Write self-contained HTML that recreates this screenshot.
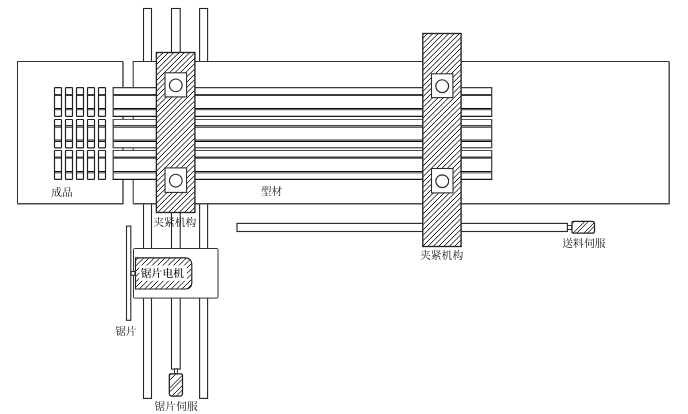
<!DOCTYPE html>
<html lang="zh-CN">
<head>
<meta charset="utf-8">
<title>型材切割示意图</title>
<style>
html,body{margin:0;padding:0;background:#fff;}
body{width:688px;height:414px;overflow:hidden;}
svg{display:block;}
text{font-family:"Liberation Serif","Noto Serif CJK SC",serif;font-size:10.6px;font-weight:400;fill:#151515;}
svg{will-change:transform;}
</style>
</head>
<body>
<svg width="688" height="414" viewBox="0 0 688 414">
<defs>
<clipPath id="c1"><rect x="156.4" y="52.5" width="38.5" height="160.0"/></clipPath>
<clipPath id="c2"><rect x="422.8" y="33.5" width="38.3" height="213.0"/></clipPath>
<clipPath id="c5"><path d="M573 221.3H592.3a2.2 2.2 0 0 1 2.2 2.2V230.9a2.2 2.2 0 0 1 -2.2 2.2H573a1 1 0 0 1 -1 -1V222.3a1 1 0 0 1 1 -1Z"/></clipPath>
<clipPath id="c6"><path d="M135.5 257.8H185.8a6 6 0 0 1 6 6V283a6 6 0 0 1 -6 6H135.5Z"/></clipPath>
<clipPath id="c7"><path d="M170.4 373.8H181.4a1.1 1.1 0 0 1 1.1 1.1V393.2a2.8 2.8 0 0 1 -2.8 2.8H172.1a2.8 2.8 0 0 1 -2.8 -2.8V374.9a1.1 1.1 0 0 1 1.1 -1.1Z"/></clipPath>
</defs>
<rect x="0" y="0" width="688" height="414" fill="#fff"/>
<rect x="143.5" y="8.5" width="8.0" height="389.9" fill="#fff" stroke="#262626" stroke-width="1.1"/>
<rect x="171.5" y="8.5" width="8.7" height="360.6" fill="#fff" stroke="#262626" stroke-width="1.1"/>
<rect x="199.6" y="8.5" width="8.0" height="389.9" fill="#fff" stroke="#262626" stroke-width="1.1"/>
<rect x="126.5" y="226.1" width="4.3" height="94.2" fill="#fff" stroke="#2a2a2a" stroke-width="1.1"/>
<rect x="17.5" y="61.5" width="105.5" height="142.25" fill="#fff" stroke="none" stroke-width="1"/>
<path d="M17.5 203.75V61.5H123.0" fill="none" stroke="#333" stroke-width="1.05" stroke-linejoin="miter"/>
<path d="M123.0 61.5V203.75H17.5" fill="none" stroke="#484848" stroke-width="1.45" stroke-linejoin="round"/>
<rect x="133.2" y="61.5" width="536.0" height="142.25" fill="#fff" stroke="none" stroke-width="1"/>
<path d="M133.2 203.75V61.5H669.2" fill="none" stroke="#333" stroke-width="1.05" stroke-linejoin="miter"/>
<path d="M669.2 61.5V203.75H133.2" fill="none" stroke="#484848" stroke-width="1.45" stroke-linejoin="round"/>
<rect x="237" y="223.4" width="330.4" height="8.1" fill="#fff" stroke="#2a2a2a" stroke-width="1.15"/>
<rect x="567.5" y="225.5" width="4.5" height="4.0" fill="#fff" stroke="#333" stroke-width="1"/>
<rect x="113.2" y="87.6" width="378.5" height="28.8" fill="#fff" stroke="none" stroke-width="1"/>
<line x1="113.2" y1="95.0" x2="491.7" y2="95.0" stroke="#3c3c3c" stroke-width="2.0"/>
<line x1="113.2" y1="108.5" x2="491.7" y2="108.5" stroke="#0a0a0a" stroke-width="1.05"/>
<line x1="113.2" y1="109.65" x2="491.7" y2="109.65" stroke="#666" stroke-width="1.2"/>
<line x1="112.7" y1="87.6" x2="492.2" y2="87.6" stroke="#3a3a3a" stroke-width="1.05"/>
<line x1="112.7" y1="116.4" x2="492.2" y2="116.4" stroke="#151515" stroke-width="1.1"/>
<line x1="113.2" y1="87.6" x2="113.2" y2="116.4" stroke="#3a3a3a" stroke-width="1.2"/>
<line x1="491.7" y1="87.6" x2="491.7" y2="116.4" stroke="#3a3a3a" stroke-width="1.2"/>
<rect x="54.5" y="87.6" width="7.0" height="28.8" fill="#fff" stroke="none" stroke-width="1"/>
<line x1="54.5" y1="95.0" x2="61.5" y2="95.0" stroke="#3c3c3c" stroke-width="2.0"/>
<line x1="54.5" y1="108.5" x2="61.5" y2="108.5" stroke="#0a0a0a" stroke-width="1.05"/>
<line x1="54.5" y1="109.65" x2="61.5" y2="109.65" stroke="#666" stroke-width="1.2"/>
<rect x="54.5" y="87.6" width="7.0" height="28.8" fill="none" stroke="#222" stroke-width="1.2" rx="0.6"/>
<rect x="65.5" y="87.6" width="7.0" height="28.8" fill="#fff" stroke="none" stroke-width="1"/>
<line x1="65.5" y1="95.0" x2="72.5" y2="95.0" stroke="#3c3c3c" stroke-width="2.0"/>
<line x1="65.5" y1="108.5" x2="72.5" y2="108.5" stroke="#0a0a0a" stroke-width="1.05"/>
<line x1="65.5" y1="109.65" x2="72.5" y2="109.65" stroke="#666" stroke-width="1.2"/>
<rect x="65.5" y="87.6" width="7.0" height="28.8" fill="none" stroke="#222" stroke-width="1.2" rx="0.6"/>
<rect x="76.5" y="87.6" width="7.0" height="28.8" fill="#fff" stroke="none" stroke-width="1"/>
<line x1="76.5" y1="95.0" x2="83.5" y2="95.0" stroke="#3c3c3c" stroke-width="2.0"/>
<line x1="76.5" y1="108.5" x2="83.5" y2="108.5" stroke="#0a0a0a" stroke-width="1.05"/>
<line x1="76.5" y1="109.65" x2="83.5" y2="109.65" stroke="#666" stroke-width="1.2"/>
<rect x="76.5" y="87.6" width="7.0" height="28.8" fill="none" stroke="#222" stroke-width="1.2" rx="0.6"/>
<rect x="87.5" y="87.6" width="7.0" height="28.8" fill="#fff" stroke="none" stroke-width="1"/>
<line x1="87.5" y1="95.0" x2="94.5" y2="95.0" stroke="#3c3c3c" stroke-width="2.0"/>
<line x1="87.5" y1="108.5" x2="94.5" y2="108.5" stroke="#0a0a0a" stroke-width="1.05"/>
<line x1="87.5" y1="109.65" x2="94.5" y2="109.65" stroke="#666" stroke-width="1.2"/>
<rect x="87.5" y="87.6" width="7.0" height="28.8" fill="none" stroke="#222" stroke-width="1.2" rx="0.6"/>
<rect x="98.5" y="87.6" width="7.0" height="28.8" fill="#fff" stroke="none" stroke-width="1"/>
<line x1="98.5" y1="95.0" x2="105.5" y2="95.0" stroke="#3c3c3c" stroke-width="2.0"/>
<line x1="98.5" y1="108.5" x2="105.5" y2="108.5" stroke="#0a0a0a" stroke-width="1.05"/>
<line x1="98.5" y1="109.65" x2="105.5" y2="109.65" stroke="#666" stroke-width="1.2"/>
<rect x="98.5" y="87.6" width="7.0" height="28.8" fill="none" stroke="#222" stroke-width="1.2" rx="0.6"/>
<rect x="113.2" y="119.5" width="378.5" height="28.3" fill="#fff" stroke="none" stroke-width="1"/>
<line x1="113.2" y1="125.5" x2="491.7" y2="125.5" stroke="#404040" stroke-width="1.0"/>
<line x1="113.2" y1="126.5" x2="491.7" y2="126.5" stroke="#999" stroke-width="1.0"/>
<line x1="113.2" y1="127.4" x2="491.7" y2="127.4" stroke="#555" stroke-width="1.0"/>
<line x1="113.2" y1="140.0" x2="491.7" y2="140.0" stroke="#7a7a7a" stroke-width="1.6"/>
<line x1="113.2" y1="141.35" x2="491.7" y2="141.35" stroke="#0a0a0a" stroke-width="1.1"/>
<line x1="112.7" y1="119.5" x2="492.2" y2="119.5" stroke="#5a5a5a" stroke-width="1.0"/>
<line x1="112.7" y1="147.8" x2="492.2" y2="147.8" stroke="#666" stroke-width="1.6"/>
<line x1="113.2" y1="119.5" x2="113.2" y2="147.8" stroke="#3a3a3a" stroke-width="1.2"/>
<line x1="491.7" y1="119.5" x2="491.7" y2="147.8" stroke="#3a3a3a" stroke-width="1.2"/>
<rect x="54.5" y="119.5" width="7.0" height="28.3" fill="#fff" stroke="none" stroke-width="1"/>
<line x1="54.5" y1="125.5" x2="61.5" y2="125.5" stroke="#404040" stroke-width="1.0"/>
<line x1="54.5" y1="126.5" x2="61.5" y2="126.5" stroke="#999" stroke-width="1.0"/>
<line x1="54.5" y1="127.4" x2="61.5" y2="127.4" stroke="#555" stroke-width="1.0"/>
<line x1="54.5" y1="140.0" x2="61.5" y2="140.0" stroke="#7a7a7a" stroke-width="1.6"/>
<line x1="54.5" y1="141.35" x2="61.5" y2="141.35" stroke="#0a0a0a" stroke-width="1.1"/>
<rect x="54.5" y="119.5" width="7.0" height="28.3" fill="none" stroke="#222" stroke-width="1.2" rx="0.6"/>
<rect x="65.5" y="119.5" width="7.0" height="28.3" fill="#fff" stroke="none" stroke-width="1"/>
<line x1="65.5" y1="125.5" x2="72.5" y2="125.5" stroke="#404040" stroke-width="1.0"/>
<line x1="65.5" y1="126.5" x2="72.5" y2="126.5" stroke="#999" stroke-width="1.0"/>
<line x1="65.5" y1="127.4" x2="72.5" y2="127.4" stroke="#555" stroke-width="1.0"/>
<line x1="65.5" y1="140.0" x2="72.5" y2="140.0" stroke="#7a7a7a" stroke-width="1.6"/>
<line x1="65.5" y1="141.35" x2="72.5" y2="141.35" stroke="#0a0a0a" stroke-width="1.1"/>
<rect x="65.5" y="119.5" width="7.0" height="28.3" fill="none" stroke="#222" stroke-width="1.2" rx="0.6"/>
<rect x="76.5" y="119.5" width="7.0" height="28.3" fill="#fff" stroke="none" stroke-width="1"/>
<line x1="76.5" y1="125.5" x2="83.5" y2="125.5" stroke="#404040" stroke-width="1.0"/>
<line x1="76.5" y1="126.5" x2="83.5" y2="126.5" stroke="#999" stroke-width="1.0"/>
<line x1="76.5" y1="127.4" x2="83.5" y2="127.4" stroke="#555" stroke-width="1.0"/>
<line x1="76.5" y1="140.0" x2="83.5" y2="140.0" stroke="#7a7a7a" stroke-width="1.6"/>
<line x1="76.5" y1="141.35" x2="83.5" y2="141.35" stroke="#0a0a0a" stroke-width="1.1"/>
<rect x="76.5" y="119.5" width="7.0" height="28.3" fill="none" stroke="#222" stroke-width="1.2" rx="0.6"/>
<rect x="87.5" y="119.5" width="7.0" height="28.3" fill="#fff" stroke="none" stroke-width="1"/>
<line x1="87.5" y1="125.5" x2="94.5" y2="125.5" stroke="#404040" stroke-width="1.0"/>
<line x1="87.5" y1="126.5" x2="94.5" y2="126.5" stroke="#999" stroke-width="1.0"/>
<line x1="87.5" y1="127.4" x2="94.5" y2="127.4" stroke="#555" stroke-width="1.0"/>
<line x1="87.5" y1="140.0" x2="94.5" y2="140.0" stroke="#7a7a7a" stroke-width="1.6"/>
<line x1="87.5" y1="141.35" x2="94.5" y2="141.35" stroke="#0a0a0a" stroke-width="1.1"/>
<rect x="87.5" y="119.5" width="7.0" height="28.3" fill="none" stroke="#222" stroke-width="1.2" rx="0.6"/>
<rect x="98.5" y="119.5" width="7.0" height="28.3" fill="#fff" stroke="none" stroke-width="1"/>
<line x1="98.5" y1="125.5" x2="105.5" y2="125.5" stroke="#404040" stroke-width="1.0"/>
<line x1="98.5" y1="126.5" x2="105.5" y2="126.5" stroke="#999" stroke-width="1.0"/>
<line x1="98.5" y1="127.4" x2="105.5" y2="127.4" stroke="#555" stroke-width="1.0"/>
<line x1="98.5" y1="140.0" x2="105.5" y2="140.0" stroke="#7a7a7a" stroke-width="1.6"/>
<line x1="98.5" y1="141.35" x2="105.5" y2="141.35" stroke="#0a0a0a" stroke-width="1.1"/>
<rect x="98.5" y="119.5" width="7.0" height="28.3" fill="none" stroke="#222" stroke-width="1.2" rx="0.6"/>
<rect x="113.2" y="150.5" width="378.5" height="28.9" fill="#fff" stroke="none" stroke-width="1"/>
<line x1="113.2" y1="157.6" x2="491.7" y2="157.6" stroke="#3c3c3c" stroke-width="2.1"/>
<line x1="113.2" y1="171.5" x2="491.7" y2="171.5" stroke="#0a0a0a" stroke-width="1.05"/>
<line x1="113.2" y1="172.85" x2="491.7" y2="172.85" stroke="#6a6a6a" stroke-width="1.3"/>
<line x1="112.7" y1="150.5" x2="492.2" y2="150.5" stroke="#4a4a4a" stroke-width="1.0"/>
<line x1="112.7" y1="179.4" x2="492.2" y2="179.4" stroke="#151515" stroke-width="1.1"/>
<line x1="113.2" y1="150.5" x2="113.2" y2="179.4" stroke="#3a3a3a" stroke-width="1.2"/>
<line x1="491.7" y1="150.5" x2="491.7" y2="179.4" stroke="#3a3a3a" stroke-width="1.2"/>
<rect x="54.5" y="150.5" width="7.0" height="28.9" fill="#fff" stroke="none" stroke-width="1"/>
<line x1="54.5" y1="157.6" x2="61.5" y2="157.6" stroke="#3c3c3c" stroke-width="2.1"/>
<line x1="54.5" y1="171.5" x2="61.5" y2="171.5" stroke="#0a0a0a" stroke-width="1.05"/>
<line x1="54.5" y1="172.85" x2="61.5" y2="172.85" stroke="#6a6a6a" stroke-width="1.3"/>
<rect x="54.5" y="150.5" width="7.0" height="28.9" fill="none" stroke="#222" stroke-width="1.2" rx="0.6"/>
<rect x="65.5" y="150.5" width="7.0" height="28.9" fill="#fff" stroke="none" stroke-width="1"/>
<line x1="65.5" y1="157.6" x2="72.5" y2="157.6" stroke="#3c3c3c" stroke-width="2.1"/>
<line x1="65.5" y1="171.5" x2="72.5" y2="171.5" stroke="#0a0a0a" stroke-width="1.05"/>
<line x1="65.5" y1="172.85" x2="72.5" y2="172.85" stroke="#6a6a6a" stroke-width="1.3"/>
<rect x="65.5" y="150.5" width="7.0" height="28.9" fill="none" stroke="#222" stroke-width="1.2" rx="0.6"/>
<rect x="76.5" y="150.5" width="7.0" height="28.9" fill="#fff" stroke="none" stroke-width="1"/>
<line x1="76.5" y1="157.6" x2="83.5" y2="157.6" stroke="#3c3c3c" stroke-width="2.1"/>
<line x1="76.5" y1="171.5" x2="83.5" y2="171.5" stroke="#0a0a0a" stroke-width="1.05"/>
<line x1="76.5" y1="172.85" x2="83.5" y2="172.85" stroke="#6a6a6a" stroke-width="1.3"/>
<rect x="76.5" y="150.5" width="7.0" height="28.9" fill="none" stroke="#222" stroke-width="1.2" rx="0.6"/>
<rect x="87.5" y="150.5" width="7.0" height="28.9" fill="#fff" stroke="none" stroke-width="1"/>
<line x1="87.5" y1="157.6" x2="94.5" y2="157.6" stroke="#3c3c3c" stroke-width="2.1"/>
<line x1="87.5" y1="171.5" x2="94.5" y2="171.5" stroke="#0a0a0a" stroke-width="1.05"/>
<line x1="87.5" y1="172.85" x2="94.5" y2="172.85" stroke="#6a6a6a" stroke-width="1.3"/>
<rect x="87.5" y="150.5" width="7.0" height="28.9" fill="none" stroke="#222" stroke-width="1.2" rx="0.6"/>
<rect x="98.5" y="150.5" width="7.0" height="28.9" fill="#fff" stroke="none" stroke-width="1"/>
<line x1="98.5" y1="157.6" x2="105.5" y2="157.6" stroke="#3c3c3c" stroke-width="2.1"/>
<line x1="98.5" y1="171.5" x2="105.5" y2="171.5" stroke="#0a0a0a" stroke-width="1.05"/>
<line x1="98.5" y1="172.85" x2="105.5" y2="172.85" stroke="#6a6a6a" stroke-width="1.3"/>
<rect x="98.5" y="150.5" width="7.0" height="28.9" fill="none" stroke="#222" stroke-width="1.2" rx="0.6"/>
<rect x="156.4" y="52.5" width="38.5" height="160.0" fill="#fff" stroke="none" stroke-width="1"/>
<path d="M156.4 53.91L194.9 15.41M156.4 59.24L194.9 20.74M156.4 64.57L194.9 26.07M156.4 69.9L194.9 31.4M156.4 75.23L194.9 36.73M156.4 80.56L194.9 42.06M156.4 85.89L194.9 47.39M156.4 91.22L194.9 52.72M156.4 96.55L194.9 58.05M156.4 101.88L194.9 63.38M156.4 107.21L194.9 68.71M156.4 112.54L194.9 74.04M156.4 117.87L194.9 79.37M156.4 123.2L194.9 84.7M156.4 128.53L194.9 90.03M156.4 133.86L194.9 95.36M156.4 139.19L194.9 100.69M156.4 144.52L194.9 106.02M156.4 149.85L194.9 111.35M156.4 155.18L194.9 116.68M156.4 160.51L194.9 122.01M156.4 165.84L194.9 127.34M156.4 171.17L194.9 132.67M156.4 176.5L194.9 138.0M156.4 181.83L194.9 143.33M156.4 187.16L194.9 148.66M156.4 192.49L194.9 153.99M156.4 197.82L194.9 159.32M156.4 203.15L194.9 164.65M156.4 208.48L194.9 169.98M156.4 213.81L194.9 175.31M156.4 219.14L194.9 180.64M156.4 224.47L194.9 185.97M156.4 229.8L194.9 191.3M156.4 235.13L194.9 196.63M156.4 240.46L194.9 201.96M156.4 245.79L194.9 207.29" fill="none" stroke="#000" stroke-width="0.95" clip-path="url(#c1)"/>
<rect x="156.4" y="52.5" width="38.5" height="160.0" fill="none" stroke="#222" stroke-width="1.35"/>
<rect x="165" y="72.8" width="21.6" height="24.1" fill="#fff" stroke="#2e2e2e" stroke-width="1.1"/>
<circle cx="175.8" cy="85.35" r="6.4" fill="#fff" stroke="#2a2a2a" stroke-width="1.15"/>
<rect x="165" y="167.9" width="21.6" height="24.5" fill="#fff" stroke="#2e2e2e" stroke-width="1.1"/>
<circle cx="175.8" cy="180.65" r="6.4" fill="#fff" stroke="#2a2a2a" stroke-width="1.15"/>
<rect x="422.8" y="33.5" width="38.3" height="213.0" fill="#fff" stroke="none" stroke-width="1"/>
<path d="M422.8 38.29L461.1 -0.01M422.8 43.62L461.1 5.32M422.8 48.95L461.1 10.65M422.8 54.28L461.1 15.98M422.8 59.61L461.1 21.31M422.8 64.94L461.1 26.64M422.8 70.27L461.1 31.97M422.8 75.6L461.1 37.3M422.8 80.93L461.1 42.63M422.8 86.26L461.1 47.96M422.8 91.59L461.1 53.29M422.8 96.92L461.1 58.62M422.8 102.25L461.1 63.95M422.8 107.58L461.1 69.28M422.8 112.91L461.1 74.61M422.8 118.24L461.1 79.94M422.8 123.57L461.1 85.27M422.8 128.9L461.1 90.6M422.8 134.23L461.1 95.93M422.8 139.56L461.1 101.26M422.8 144.89L461.1 106.59M422.8 150.22L461.1 111.92M422.8 155.55L461.1 117.25M422.8 160.88L461.1 122.58M422.8 166.21L461.1 127.91M422.8 171.54L461.1 133.24M422.8 176.87L461.1 138.57M422.8 182.2L461.1 143.9M422.8 187.53L461.1 149.23M422.8 192.86L461.1 154.56M422.8 198.19L461.1 159.89M422.8 203.52L461.1 165.22M422.8 208.85L461.1 170.55M422.8 214.18L461.1 175.88M422.8 219.51L461.1 181.21M422.8 224.84L461.1 186.54M422.8 230.17L461.1 191.87M422.8 235.5L461.1 197.2M422.8 240.83L461.1 202.53M422.8 246.16L461.1 207.86M422.8 251.49L461.1 213.19M422.8 256.82L461.1 218.52M422.8 262.15L461.1 223.85M422.8 267.48L461.1 229.18M422.8 272.81L461.1 234.51M422.8 278.14L461.1 239.84M422.8 283.47L461.1 245.17" fill="none" stroke="#000" stroke-width="0.95" clip-path="url(#c2)"/>
<rect x="422.8" y="33.5" width="38.3" height="213.0" fill="none" stroke="#222" stroke-width="1.35"/>
<rect x="431.5" y="73.8" width="21.4" height="23.8" fill="#fff" stroke="#2e2e2e" stroke-width="1.1"/>
<circle cx="442.2" cy="86.2" r="6.4" fill="#fff" stroke="#2a2a2a" stroke-width="1.15"/>
<rect x="431.5" y="168.5" width="21.5" height="24.4" fill="#fff" stroke="#2e2e2e" stroke-width="1.1"/>
<circle cx="442.25" cy="181.2" r="6.4" fill="#fff" stroke="#2a2a2a" stroke-width="1.15"/>
<path d="M573 221.3H592.3a2.2 2.2 0 0 1 2.2 2.2V230.9a2.2 2.2 0 0 1 -2.2 2.2H573a1 1 0 0 1 -1 -1V222.3a1 1 0 0 1 1 -1Z" fill="#fff"/>
<path d="M572 223.7L594.5 201.2M572 234.2L594.5 211.7M572 237.8L594.5 215.3M572 244.9L594.5 222.4M572 248.5L594.5 226.0" fill="none" stroke="#000" stroke-width="0.9" clip-path="url(#c5)"/>
<path d="M573 221.3H592.3a2.2 2.2 0 0 1 2.2 2.2V230.9a2.2 2.2 0 0 1 -2.2 2.2H573a1 1 0 0 1 -1 -1V222.3a1 1 0 0 1 1 -1Z" fill="none" stroke="#222" stroke-width="1.25"/>
<rect x="133.5" y="248.5" width="84.5" height="49.6" fill="#fff" stroke="#333" stroke-width="1" rx="0.8"/>
<path d="M135.5 257.8H185.8a6 6 0 0 1 6 6V283a6 6 0 0 1 -6 6H135.5Z" fill="#fff"/>
<path d="M135.5 260.8L192 204.3M135.5 266.13L192 209.63M135.5 271.46L192 214.96M135.5 276.79L192 220.29M135.5 282.12L192 225.62M135.5 287.45L192 230.95M135.5 292.78L192 236.28M135.5 298.11L192 241.61M135.5 303.44L192 246.94M135.5 308.77L192 252.27M135.5 314.1L192 257.6M135.5 319.43L192 262.93M135.5 324.76L192 268.26M135.5 330.09L192 273.59M135.5 335.42L192 278.92M135.5 340.75L192 284.25" fill="none" stroke="#000" stroke-width="0.92" clip-path="url(#c6)"/>
<path d="M135.5 257.8H185.8a6 6 0 0 1 6 6V283a6 6 0 0 1 -6 6H135.5Z" fill="none" stroke="#222" stroke-width="1.15"/>
<rect x="131" y="271.5" width="4" height="3.7" fill="#fff" stroke="#2a2a2a" stroke-width="1.1"/>
<rect x="139.3" y="265.5" width="47.5" height="15.3" fill="#fff"/>
<rect x="174.5" y="369" width="3.0" height="4.5" fill="#fff" stroke="#333" stroke-width="1"/>
<path d="M170.4 373.8H181.4a1.1 1.1 0 0 1 1.1 1.1V393.2a2.8 2.8 0 0 1 -2.8 2.8H172.1a2.8 2.8 0 0 1 -2.8 -2.8V374.9a1.1 1.1 0 0 1 1.1 -1.1Z" fill="#fff"/>
<path d="M169.3 375.9L182.5 362.7M169.3 380.6L182.5 367.4M169.3 388.4L182.5 375.2M169.3 392.2L182.5 379.0M169.3 398.6L182.5 385.4M169.3 403.1L182.5 389.9" fill="none" stroke="#000" stroke-width="0.9" clip-path="url(#c7)"/>
<path d="M170.4 373.8H181.4a1.1 1.1 0 0 1 1.1 1.1V393.2a2.8 2.8 0 0 1 -2.8 2.8H172.1a2.8 2.8 0 0 1 -2.8 -2.8V374.9a1.1 1.1 0 0 1 1.1 -1.1Z" fill="none" stroke="#222" stroke-width="1.25"/>
<text x="51.2" y="195.9" textLength="21.6" lengthAdjust="spacingAndGlyphs">成品</text>
<text x="260.8" y="195.0" textLength="21.6" lengthAdjust="spacingAndGlyphs">型材</text>
<text x="153.2" y="226.4" textLength="43.2" lengthAdjust="spacingAndGlyphs">夹紧机构</text>
<text x="420" y="259.2" textLength="43.2" lengthAdjust="spacingAndGlyphs">夹紧机构</text>
<text x="562.3" y="247.2" textLength="43.2" lengthAdjust="spacingAndGlyphs">送料伺服</text>
<text x="140.8" y="276.8" textLength="43.2" lengthAdjust="spacingAndGlyphs" style="font-weight:500;fill:#000">锯片电机</text>
<text x="115.3" y="334.8" textLength="21.6" lengthAdjust="spacingAndGlyphs">锯片</text>
<text x="154.5" y="409.9" textLength="43.2" lengthAdjust="spacingAndGlyphs">锯片伺服</text>
</svg>
</body>
</html>
